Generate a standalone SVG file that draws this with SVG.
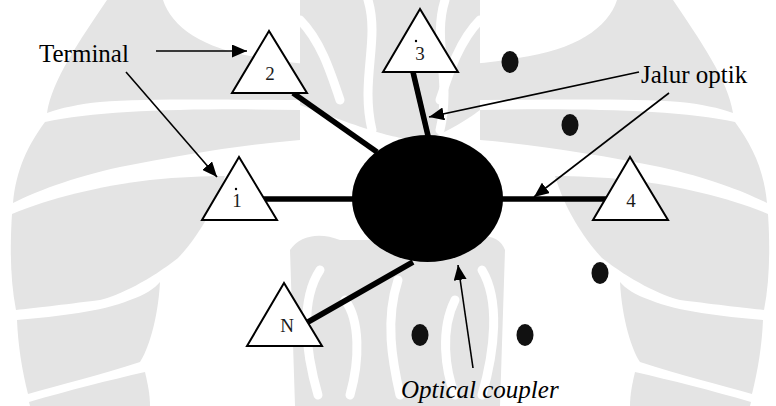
<svg xmlns="http://www.w3.org/2000/svg" width="776" height="406" viewBox="0 0 776 406">
<style>
.wm{fill:#e4e4e4}
.wg{fill:none;stroke:#fff;stroke-width:9;stroke-linecap:round}
.tri{fill:#fff;stroke:#000;stroke-width:2}
.num{font-family:"Liberation Serif","Times New Roman",serif;font-size:19px;fill:#1a1a1a;text-anchor:middle}
.lbl{font-family:"Liberation Serif","Times New Roman",serif;font-size:25px;fill:#000}
.fiber{stroke:#000;stroke-width:5.5;stroke-linecap:butt}
.arr{stroke:#000;stroke-width:1.6;fill:none;marker-end:url(#ah)}
.dot{fill:#111}
</style>
<defs>
<marker id="ah" markerUnits="userSpaceOnUse" markerWidth="16" markerHeight="13" refX="15" refY="6.5" orient="auto">
<path d="M0,0 L15,6.5 L0,13 z" fill="#000"/>
</marker>
<g id="fan">
<path class="wm" d="M107,0 L163,0 C172,28 205,50 262,58 C285,62 300,64 320,64 L320,100 C240,100 150,98 100,102 C80,104 60,108 47,113 C52,80 80,40 107,0 Z"/>
<path class="wm" d="M45,122 C100,110 200,108 300,110 L300,140 C240,145 180,155 120,167 C70,178 35,192 13,203 C16,170 28,145 45,122 Z"/>
<path class="wm" d="M12,214 C50,198 100,186 150,180 C180,177 205,176 225,176 C215,210 195,240 178,258 C150,280 120,295 100,300 C60,305 35,308 16,310 C10,280 10,245 12,214 Z"/>
<path class="wm" d="M17,320 C60,316 100,312 130,300 C145,295 155,288 160,282 C158,320 148,350 140,362 C100,375 60,385 28,394 C22,370 18,345 17,320 Z"/>
<path class="wm" d="M30,406 L29,402 C70,390 110,380 145,372 C148,385 150,395 150,406 Z"/>
</g>
</defs>
<rect width="776" height="406" fill="#fff"/>
<g id="watermark">
<use href="#fan"/>
<use href="#fan" transform="translate(780,0) scale(-1,1)"/>
<path class="wm" d="M300,0 L480,0 L480,110 C460,125 440,135 425,140 C400,140 380,135 300,105 Z"/>
<path class="wg" d="M368,0 C380,40 360,80 372,130"/>
<path class="wg" d="M445,0 C432,40 452,80 440,130"/>
<path class="wg" d="M300,20 C320,40 330,70 340,100"/>
<path class="wg" d="M480,20 C460,40 450,70 440,100"/>
<path class="wm" d="M290,250 C300,235 320,232 340,240 L460,240 C480,232 500,235 505,250 L500,406 L295,406 Z"/>
<path class="wg" d="M320,270 C300,300 305,350 318,395"/>
<path class="wg" d="M345,300 C360,320 360,360 350,395"/>
<path class="wg" d="M398,280 C385,320 392,360 400,395"/>
<path class="wg" d="M455,300 C440,330 445,370 455,395"/>
<path class="wg" d="M482,270 C500,300 495,350 482,395"/>
</g>
<g id="connectors">
<line class="fiber" x1="293" y1="93" x2="377" y2="152"/>
<line class="fiber" x1="413" y1="72" x2="429" y2="140"/>
<line class="fiber" x1="262" y1="199" x2="360" y2="199"/>
<line class="fiber" x1="495" y1="199" x2="606" y2="199"/>
<line class="fiber" x1="308" y1="322" x2="413" y2="262"/>
<line class="arr" x1="156" y1="51" x2="247" y2="51"/>
<line class="arr" x1="126" y1="72" x2="217" y2="177"/>
<line class="arr" x1="639" y1="72" x2="429" y2="117"/>
<line class="arr" x1="669" y1="93" x2="534" y2="197"/>
<line class="arr" x1="473" y1="368" x2="458" y2="265"/>
</g>
<g id="coupler">
<ellipse cx="427.5" cy="198.5" rx="75.5" ry="63.5" fill="#000"/>
</g>
<g id="terminal-2">
<polygon class="tri" points="269,31 232,93 307,93"/>
<text class="num" x="270" y="80">2</text>
</g>
<g id="terminal-3">
<polygon class="tri" points="420,9 383,72 458,72"/>
<circle cx="416" cy="41" r="1.2" fill="#000"/>
<text class="num" x="420" y="60">3</text>
</g>
<g id="terminal-1">
<polygon class="tri" points="239,157 202,220 277,220"/>
<circle cx="236" cy="189" r="1.2" fill="#000"/>
<text class="num" x="237" y="207">1</text>
</g>
<g id="terminal-4">
<polygon class="tri" points="630,157 593,220 668,220"/>
<text class="num" x="631" y="207">4</text>
</g>
<g id="terminal-N">
<polygon class="tri" points="284,283 247,346 322,346"/>
<text class="num" x="287" y="332">N</text>
</g>
<g id="dots">
<ellipse class="dot" cx="510" cy="62" rx="8.5" ry="11"/>
<ellipse class="dot" cx="570" cy="125" rx="8.5" ry="11"/>
<ellipse class="dot" cx="600" cy="273" rx="8.5" ry="11"/>
<ellipse class="dot" cx="420" cy="335" rx="8.5" ry="11"/>
<ellipse class="dot" cx="525" cy="335" rx="8.5" ry="11"/>
</g>
<g id="labels">
<text class="lbl" x="39" y="62">Terminal</text>
<text class="lbl" x="641" y="83">Jalur optik</text>
<text class="lbl" x="401" y="398" font-style="italic">Optical coupler</text>
</g>
</svg>
